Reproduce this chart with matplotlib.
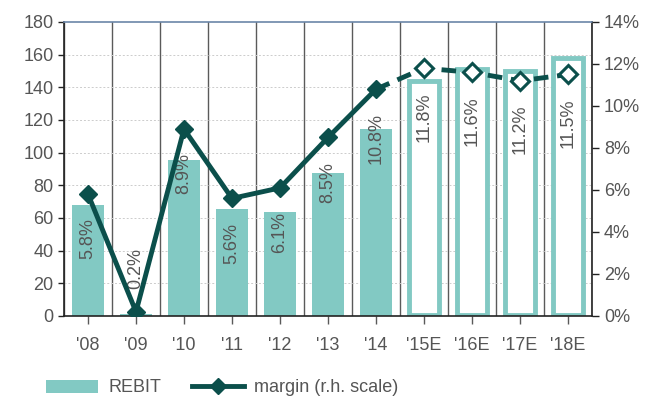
import matplotlib.pyplot as plt
import numpy as np
from matplotlib.lines import Line2D
from matplotlib.patches import Patch

plt.rcParams['font.family'] = ['Liberation Sans', 'DejaVu Sans']

years = ["'08", "'09", "'10", "'11", "'12", "'13", "'14", "'15E", "'16E", "'17E", "'18E"]
rebit = [68, 1.5, 95.5, 65.5, 63.5, 87.5, 114.5, 144.5, 152, 151, 159]
margin = [5.8, 0.2, 8.9, 5.6, 6.1, 8.5, 10.8, 11.8, 11.6, 11.2, 11.5]
n_actual = 7

BAR = '#82c9c3'
LINE = '#0b4f4b'
TXT = '#555555'

fig = plt.figure(figsize=(6.57, 3.96), dpi=100)
ax = fig.add_axes([64 / 657, 1 - 316 / 396, 528 / 657, 294 / 396])
ax2 = ax.twinx()

x = np.arange(len(years))
for i in x:
    if i < n_actual:
        ax.bar(i, rebit[i], width=0.65, color=BAR, zorder=2)
    else:
        ax.bar(i, rebit[i] - 1.8, width=0.64, bottom=0.9, facecolor='white',
               edgecolor=BAR, linewidth=3.5, zorder=2)

ax.set_xlim(-0.5, len(years) - 0.5)
ax.set_ylim(0, 180)
ax.set_yticks(range(0, 181, 20))
ax.set_xticks(x)
ax.set_xticklabels(years)
for b in np.arange(-0.5, len(years), 1.0):
    ax.axvline(b, color='#5a5a5a', lw=1, zorder=1)
for yv in range(20, 180, 20):
    ax.axhline(yv, color='#cccccc', lw=0.7, ls=(0, (2, 2)), zorder=1)

ax.tick_params(axis='both', labelsize=13, colors=TXT, length=4, width=1)
ax.tick_params(axis='y', colors='#222222', labelcolor=TXT)
ax.tick_params(axis='x', length=6, color='#5a5a5a', labelcolor=TXT, pad=9)
ax.spines['top'].set_color('#6b86a8')
ax.spines['top'].set_linewidth(1.2)
for s in ['left', 'right', 'bottom']:
    ax.spines[s].set_color('#222222')
    ax.spines[s].set_linewidth(1.2)

for i in x:
    if margin[i] < 1:
        ax2.text(i, margin[i] + 1.1, f'{margin[i]:.1f}%', rotation=90, ha='center',
                 va='bottom', fontsize=13, color=TXT, zorder=3)
    else:
        ax2.text(i, margin[i] - 1.15, f'{margin[i]:.1f}%', rotation=90, ha='center',
                 va='top', fontsize=13, color=TXT, zorder=3)

ax2.plot(x[:n_actual], margin[:n_actual], color=LINE, lw=3.5, marker='D',
         markersize=9, zorder=5)
ax2.plot(x[n_actual - 1:], margin[n_actual - 1:], color=LINE, lw=3.5, ls=(0, (3, 1.8)),
         zorder=5)
ax2.plot(x[n_actual:], margin[n_actual:], ls='none', marker='D', markersize=9,
         markerfacecolor='white', markeredgecolor=LINE, markeredgewidth=2.2, zorder=6)
ax2.set_ylim(0, 14)
ax2.set_yticks(range(0, 15, 2))
ax2.set_yticklabels([f'{v}%' for v in range(0, 15, 2)])
ax2.tick_params(axis='y', labelsize=13, colors='#222222', labelcolor=TXT, length=5, width=1)
for s in ax2.spines.values():
    s.set_visible(False)

handles = [Patch(facecolor=BAR, edgecolor='none'),
           Line2D([0], [0], color=LINE, lw=3.5, marker='D', markersize=8)]
fig.legend(handles, ['REBIT', 'margin (r.h. scale)'], loc='center left',
           bbox_to_anchor=(46 / 657, 1 - 388 / 396), ncol=2, frameon=False,
           fontsize=13, labelcolor=TXT, handlelength=2.9, columnspacing=1.7,
           handletextpad=0.55, borderpad=0, borderaxespad=0)

fig.savefig('out.png', dpi=100)
